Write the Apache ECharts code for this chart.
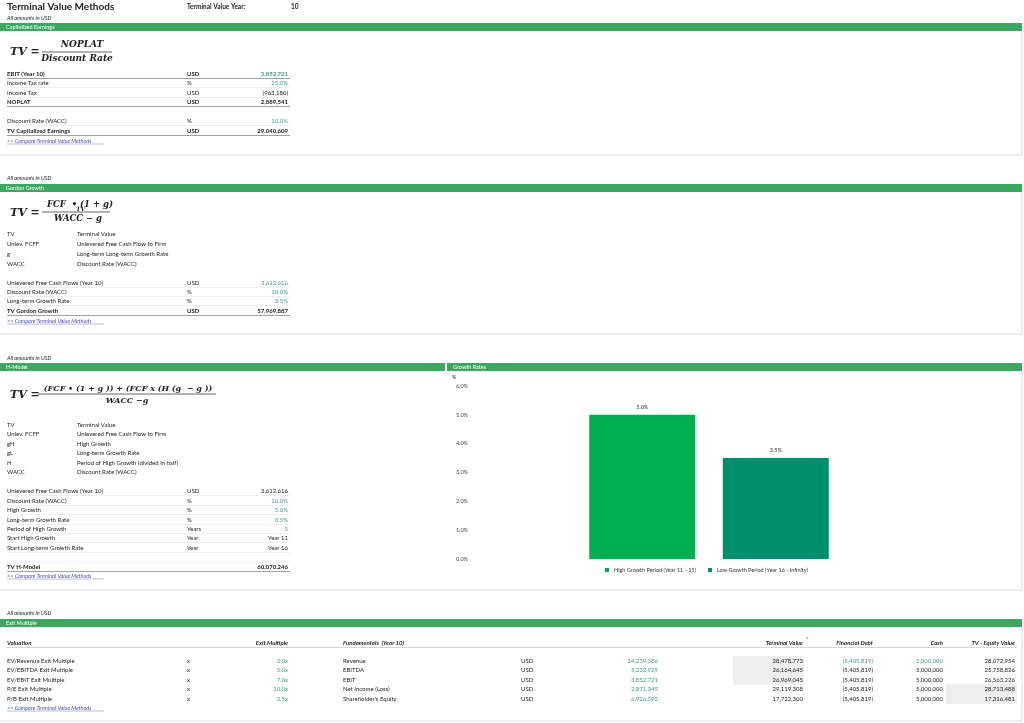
<!DOCTYPE html>
<html><head><meta charset="utf-8">
<script src="https://cdn.jsdelivr.net/npm/echarts@6/dist/echarts.min.js"></script>
<style>html,body{margin:0;padding:0;background:#fff}#c{width:1024px;height:723px}</style>
</head><body><div id="c"></div>
<script>
// ---- chart data ----
const categories = ['Growth'];
const seriesNames = ['High Growth Period (Year 11 - 15)', 'Low Growth Period (Year 16 - Infinity)'];
const highGrowth = [5.0];
const lowGrowth = [3.5];
const yTicks = [0, 1, 2, 3, 4, 5, 6];

// ---- sheet text ----
const capRows = [
  ['EBIT (Year 10)', 'USD', '3,852,721', 'b', 'in'],
  ['Income Tax rate', '%', '25.0%', '', 'in'],
  ['Income Tax', 'USD', '(963,180)', '', ''],
  ['NOPLAT', 'USD', '2,889,541', 'b', ''],
  ['Discount Rate (WACC)', '%', '10.0%', '', 'in'],
  ['TV Capitalized Earnings', 'USD', '29,040,609', 'b', '']
];
const capRowY = [74, 83, 93, 102, 121, 131];
const ggDefs = [['TV', 'Terminal Value'], ['Unlev. FCFF', 'Unlevered Free Cash Flow to Firm'], ['g', 'Long-term Long-term Growth Rate'], ['WACC', 'Discount Rate (WACC)']];
const ggRows = [
  ['Unlevered Free Cash Flows (Year 10)', 'USD', '3,612,616', '', 'in'],
  ['Discount Rate (WACC)', '%', '10.0%', '', 'in'],
  ['Long-term Growth Rate', '%', '3.5%', '', 'in'],
  ['TV Gordon Growth', 'USD', '57,969,887', 'b', '']
];
const hmDefs = [['TV', 'Terminal Value'], ['Unlev. FCFF', 'Unlevered Free Cash Flow to Firm'], ['gH', 'High Growth'], ['gL', 'Long-term Growth Rate'], ['H', 'Period of High Growth (divided in half)'], ['WACC', 'Discount Rate (WACC)']];
const hmRows = [
  ['Unlevered Free Cash Flows (Year 10)', 'USD', '3,612,616', '', ''],
  ['Discount Rate (WACC)', '%', '10.0%', '', 'in'],
  ['High Growth', '%', '5.0%', '', 'in'],
  ['Long-term Growth Rate', '%', '3.5%', '', 'in'],
  ['Period of High Growth', 'Years', '5', '', 'in'],
  ['Start High Growth', 'Year', 'Year 11', '', ''],
  ['Start Long-term Growth Rate', 'Year', 'Year 16', '', '']
];
const exitNames = ['EV/Revenue Exit Multiple', 'EV/EBITDA Exit Multiple', 'EV/EBIT Exit Multiple', 'P/E Exit Multiple', 'P/B Exit Multiple'];
const exitMult = ['2.0x', '5.0x', '7.0x', '10.0x', '2.5x'];
const fundNames = ['Revenue', 'EBITDA', 'EBIT', 'Net Income (Loss)', "Shareholder's Equity"];
const fundVals = ['14,239,386', '5,232,929', '3,852,721', '2,871,349', '6,926,592'];
const tvVals = ['28,478,773', '26,164,645', '26,969,045', '29,119,308', '17,722,300'];
const debtVals = ['(5,405,819)', '(5,405,819)', '(5,405,819)', '(5,405,819)', '(5,405,819)'];
const cashVals = ['5,000,000', '5,000,000', '5,000,000', '5,000,000', '5,000,000'];
const eqVals = ['28,072,954', '25,758,826', '26,563,226', '28,713,488', '17,316,481'];

const FONT = 'Lato, "Open Sans", sans-serif';
const GREEN = '#3aa860', INC = '#3f9a8a', LINK = '#4a55b0', LINE = '#c8c8c8';
const G = [];
function t(x, y, s, o) {
  o = o || {};
  G.push({type: 'text', x: x, y: y, silent: true, style: {text: s, fill: o.c || '#222', font: (o.i ? 'italic ' : '') + (o.b ? 'bold ' : '') + (o.s || 6) + 'px ' + (o.f || FONT), align: o.a || 'left', verticalAlign: 'middle'}});
}
function r(x, y, w, h, c) { G.push({type: 'rect', silent: true, shape: {x: x, y: y, width: w, height: h}, style: {fill: c}}); }
function ln(x1, y1, x2, y2, c, w) { G.push({type: 'line', silent: true, shape: {x1: x1, y1: y1, x2: x2, y2: y2}, style: {stroke: c || LINE, lineWidth: w || 0.6}}); }
function band(x, y, w, s) { r(x, y, w, 8, GREEN); t(x + 6, y + 4, s, {c: '#fff', s: 5.5}); }
function box(y1, y2) { ln(1022, y1, 1022, y2); ln(0, y2, 1022, y2); }
function rows(arr, ys) {
  arr.forEach((rw, i) => {
    const y = ys[i], b = rw[3] === 'b';
    t(7, y, rw[0], {b: b}); t(187, y, rw[1], {b: b});
    t(288, y, rw[2], {b: b, a: 'right', c: rw[4] === 'in' ? INC : '#222'});
    ln(7, y + 4.5, 290, y + 4.5, b ? '#888' : '#ddd', b ? 0.8 : 0.5);
  });
}
const SERIF = '"DejaVu Serif", serif';

// header
t(7, 7, 'Terminal Value Methods', {b: 1, s: 10});
t(187, 7, 'Terminal Value Year:', {b: 1, s: 6.5});
t(291, 7, '10', {b: 1, s: 6.5});

// section 1
t(7, 18, 'All amounts in USD', {i: 1, s: 5.5});
band(0, 23, 1022, 'Capitalized Earnings');
box(31, 155);
t(10, 52, 'TV =', {i: 1, b: 1, s: 11, f: SERIF});
t(82, 45, 'NOPLAT', {i: 1, b: 1, s: 9, f: SERIF, a: 'center'});
ln(42, 52, 112, 52, '#222', 0.7);
t(77, 59, 'Discount Rate', {i: 1, b: 1, s: 9, f: SERIF, a: 'center'});
rows(capRows, capRowY);
t(7, 141, '>> Compare Terminal Value Methods', {i: 1, c: LINK, s: 5.5});
ln(7, 144, 104, 144, LINK, 0.4);

// section 2
t(7, 178, 'All amounts in USD', {i: 1, s: 5.5});
band(0, 184, 1022, 'Gordon Growth');
box(192, 334);
t(10, 213, 'TV =', {i: 1, b: 1, s: 11, f: SERIF});
t(80, 205, 'FCF  \u2022 (1 + g)', {i: 1, b: 1, s: 8.5, f: SERIF, a: 'center'});
t(76, 209, 'TV', {i: 1, b: 1, s: 6, f: SERIF});
ln(42, 212, 110, 212, '#222', 0.7);
t(78, 219, 'WACC \u2212 g', {i: 1, b: 1, s: 8.5, f: SERIF, a: 'center'});
ggDefs.forEach((d, i) => { t(7, 234 + i * 10, d[0]); t(77, 234 + i * 10, d[1]); });
rows(ggRows, [283, 292, 301, 311]);
t(7, 321, '>> Compare Terminal Value Methods', {i: 1, c: LINK, s: 5.5});
ln(7, 324, 104, 324, LINK, 0.4);

// section 3
t(7, 358, 'All amounts in USD', {i: 1, s: 5.5});
band(0, 363, 445, 'H-Model');
band(447, 363, 575, 'Growth Rates');
box(371, 590);
t(10, 395, 'TV =', {i: 1, b: 1, s: 11, f: SERIF});
t(128, 389, '(FCF \u2022 (1 + g )) + (FCF x (H (g  \u2212 g ))', {i: 1, b: 1, s: 8, f: SERIF, a: 'center'});
ln(38, 394, 216, 394, '#222', 0.7);
t(127, 401, 'WACC \u2212g', {i: 1, b: 1, s: 8, f: SERIF, a: 'center'});
hmDefs.forEach((d, i) => { t(7, 425 + i * 9.5, d[0]); t(77, 425 + i * 9.5, d[1]); });
rows(hmRows, [491, 501, 510, 520, 529, 538, 548]);
ln(7, 562, 290, 562, '#ddd', 0.5);
t(7, 567, 'TV H-Model', {b: 1}); t(288, 567, '60,070,246', {b: 1, a: 'right'});
ln(7, 571.5, 290, 571.5, '#888', 0.8);
t(7, 576, '>> Compare Terminal Value Methods', {i: 1, c: LINK, s: 5.5});
ln(7, 579, 104, 579, LINK, 0.4);
t(452, 377, '%', {s: 5.5});

// section 4
t(7, 613, 'All amounts in USD', {i: 1, s: 5.5});
band(0, 619, 1022, 'Exit Multiple');
box(627, 721);
t(7, 643, 'Valuation', {b: 1, i: 1});
t(288, 643, 'Exit Multiple', {b: 1, i: 1, a: 'right'});
t(343, 643, 'Fundamentals  (Year 10)', {b: 1, i: 1});
t(803, 643, 'Terminal Value', {b: 1, i: 1, a: 'right'});
t(806, 639, '*', {c: '#c00', s: 6});
t(873, 643, 'Financial Debt', {b: 1, i: 1, a: 'right'});
t(943, 643, 'Cash', {b: 1, i: 1, a: 'right'});
t(1015, 643, 'TV - Equity Value', {b: 1, i: 1, a: 'right'});
ln(7, 647.5, 1017, 647.5, '#bbb', 0.6);
r(733, 656, 71, 29, '#eeeeee');
r(946, 684, 71, 20, '#eeeeee');
const ey = [661, 670, 680, 689, 699];
exitNames.forEach((n, i) => {
  const y = ey[i];
  t(7, y, n); t(187, y, 'x'); t(288, y, exitMult[i], {a: 'right', c: INC});
  t(343, y, fundNames[i]); t(521, y, 'USD'); t(658, y, fundVals[i], {a: 'right', c: INC});
  t(803, y, tvVals[i], {a: 'right'});
  t(873, y, debtVals[i], {a: 'right', c: i === 0 ? INC : '#222'});
  t(943, y, cashVals[i], {a: 'right', c: i === 0 ? INC : '#222'});
  t(1015, y, eqVals[i], {a: 'right'});
});
t(7, 708, '>> Compare Terminal Value Methods', {i: 1, c: LINK, s: 5.5});
ln(7, 711, 104, 711, LINK, 0.4);

const chart = echarts.init(document.getElementById('c'), null, {renderer: 'canvas'});
chart.setOption({
  animation: false,
  graphic: G,
  legend: {
    data: seriesNames, bottom: 145, left: 'center', left: 600, itemWidth: 4, itemHeight: 4, itemGap: 12,
    icon: 'rect', textStyle: {fontSize: 5.5, color: '#333', fontFamily: FONT}
  },
  grid: {left: 470, right: 76, top: 386, bottom: 164, containLabel: false},
  xAxis: {type: 'category', data: categories, axisLine: {show: false}, axisTick: {show: false}, axisLabel: {show: false}},
  yAxis: {
    type: 'value', min: yTicks[0], max: yTicks[yTicks.length - 1], interval: 1,
    splitLine: {show: false}, axisLine: {show: false}, axisTick: {show: false},
    axisLabel: {formatter: v => v.toFixed(1) + '%', fontSize: 5.5, color: '#444', fontFamily: FONT, margin: 2}
  },
  series: [
    {name: seriesNames[0], type: 'bar', data: highGrowth, barWidth: 106, barGap: '26%', itemStyle: {color: '#00b050'},
     label: {show: true, position: 'top', formatter: p => p.value.toFixed(1) + '%', fontSize: 5.5, color: '#333', fontFamily: FONT}},
    {name: seriesNames[1], type: 'bar', data: lowGrowth, barWidth: 106, itemStyle: {color: '#008f6c'},
     label: {show: true, position: 'top', formatter: p => p.value.toFixed(1) + '%', fontSize: 5.5, color: '#333', fontFamily: FONT}}
  ]
});
</script></body></html>
